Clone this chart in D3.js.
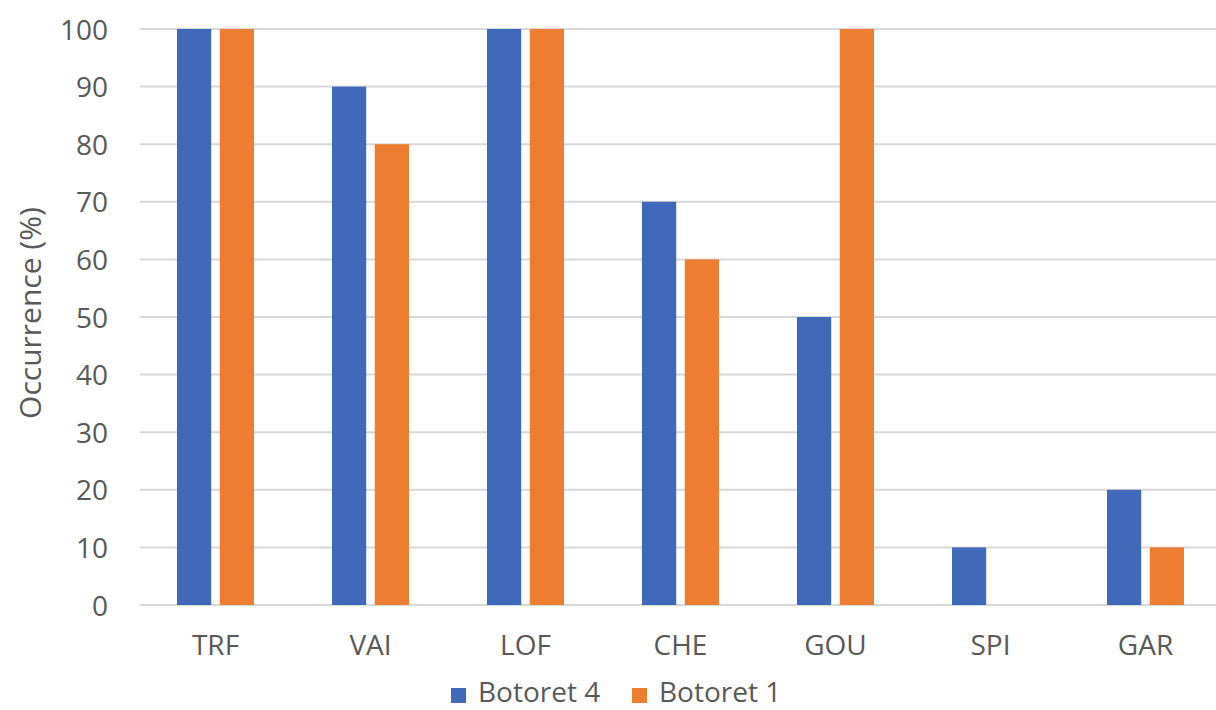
<!DOCTYPE html>
<html>
<head>
<meta charset="utf-8">
<script src="https://cdn.jsdelivr.net/npm/d3@7/dist/d3.min.js"></script>
<style>
  html, body { margin: 0; padding: 0; background: #fff; }
  svg { display: block; }
  text { font-family: "Open Sans", "Noto Sans", sans-serif; fill: #595959; }
</style>
</head>
<body>
<svg id="chart" width="1216" height="710"></svg>
<script>
// Sampling sites along the x axis
const categories = ["TRF", "VAI", "LOF", "CHE", "GOU", "SPI", "GAR"];
// Occurrence (%) per site for each station
const botoret4 = [100, 90, 100, 70, 50, 10, 20];
const botoret1 = [100, 80, 100, 60, 100, 0, 10];
const seriesNames = ["Botoret 4", "Botoret 1"];
const seriesColors = ["#4169B9", "#ED7D31"];
const yTicks = [0, 10, 20, 30, 40, 50, 60, 70, 80, 90, 100];

const series = [botoret4, botoret1];
const svg = d3.select("#chart");

const plot = { left: 138, right: 1223, top: 29, bottom: 605 };

const x0 = d3.scaleBand()
  .domain(categories)
  .range([plot.left, plot.right])
  .paddingInner(0.503)
  .paddingOuter(0.2515);

const x1 = d3.scaleBand()
  .domain(seriesNames)
  .range([0, x0.bandwidth()])
  .paddingInner(0.2);

const y = d3.scaleLinear().domain([0, 100]).range([plot.bottom, plot.top]);

// Horizontal gridlines
svg.append("g")
  .selectAll("line")
  .data(yTicks)
  .join("line")
  .attr("x1", 140)
  .attr("x2", 1216)
  .attr("y1", d => y(d))
  .attr("y2", d => y(d))
  .attr("stroke", "#d9d9d9")
  .attr("stroke-width", 2);

// Y axis tick labels
const yAxis = d3.axisLeft(y).tickValues(yTicks).tickSize(0).tickPadding(32);
const gy = svg.append("g").attr("transform", `translate(140,0)`).call(yAxis);
gy.select(".domain").remove();
gy.selectAll("text")
  .attr("font-size", 28)
  .attr("font-family", "'Open Sans', sans-serif")
  .attr("fill", "#595959")
  .attr("dy", "0.36em");

// Bars
const groups = svg.append("g")
  .selectAll("g")
  .data(categories)
  .join("g")
  .attr("transform", d => `translate(${x0(d)},0)`);

groups.selectAll("rect")
  .data((c, i) => seriesNames.map((s, k) => ({ s, k, v: series[k][i] })))
  .join("rect")
  .attr("x", d => x1(d.s))
  .attr("width", x1.bandwidth())
  .attr("y", d => y(d.v))
  .attr("height", d => y(0) - y(d.v))
  .attr("fill", d => seriesColors[d.k]);

// X axis category labels
const xAxis = d3.axisBottom(x0).tickSize(0).tickPadding(0);
const gx = svg.append("g").attr("transform", `translate(0,${plot.bottom})`).call(xAxis);
gx.select(".domain").remove();
gx.selectAll("text")
  .attr("font-size", 28)
  .attr("font-family", "'Open Sans', sans-serif")
  .attr("fill", "#595959")
  .attr("dy", null)
  .attr("y", 50);

// Y axis title
svg.append("text")
  .attr("transform", "translate(41,313) rotate(-90)")
  .attr("text-anchor", "middle")
  .attr("font-size", 30)
  .text("Occurrence (%)");

// Legend
const legendX = [451, 632];
const legend = svg.append("g");
seriesNames.forEach((name, k) => {
  legend.append("rect")
    .attr("x", legendX[k])
    .attr("y", 688)
    .attr("width", 15)
    .attr("height", 15)
    .attr("fill", seriesColors[k]);
  legend.append("text")
    .attr("x", legendX[k] + 27)
    .attr("y", 702)
    .attr("font-size", 28)
    .text(name);
});
</script>
</body>
</html>
